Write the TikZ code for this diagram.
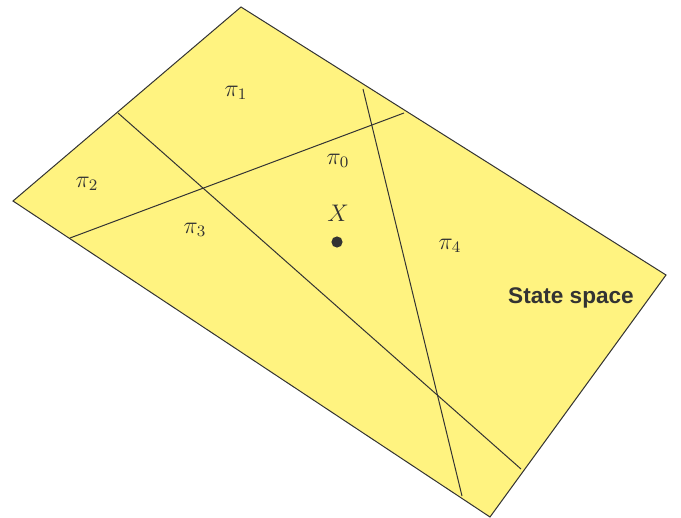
\documentclass[tikz,border=0pt]{standalone}
\usepackage{fontspec}
\newfontfamily\labelsans{Liberation Sans}
\definecolor{planefill}{HTML}{FFF380}
\definecolor{inkgray}{HTML}{333333}
\begin{document}
\begin{tikzpicture}[x=0.5pt,y=-0.5pt,
  edge/.style={draw=inkgray,line width=0.5pt},
  lbl/.style={text=inkgray,font=\fontsize{11.5}{14}\selectfont,inner sep=0pt},
  title/.style={text=inkgray,font=\labelsans\bfseries\fontsize{11.3}{14}\selectfont,inner sep=0pt}]
\useasboundingbox (0,0) rectangle (681,518);
\coordinate (T) at (241,7);
\coordinate (L) at (13,201);
\coordinate (B) at (490,517);
\coordinate (R) at (666,275);
\fill[planefill] (T) -- (L) -- (B) -- (R) -- cycle;
\coordinate (a1) at (118,113);
\coordinate (a2) at (521,469);
\coordinate (b1) at (70,238);
\coordinate (b2) at (404,113);
\coordinate (c1) at (363,89);
\coordinate (c2) at (462,496);
\draw[edge] (a1) -- (a2);
\draw[edge] (b1) -- (b2);
\draw[edge] (c1) -- (c2);
\draw[edge,line join=miter] (T) -- (L) -- (B) -- (R) -- cycle;
\node[lbl] (p1) at (236,93) {$\pi_1$};
\node[lbl] (p2) at (87,184) {$\pi_2$};
\node[lbl] (p0) at (338,161) {$\pi_0$};
\node[lbl] (p3) at (195,230) {$\pi_3$};
\node[lbl] (p4) at (450,246) {$\pi_4$};
\node[lbl] (X) at (338,213) {$X$};
\fill[inkgray] (337,242) circle (2.8pt) coordinate (dot);
\node[title] (ss) at (571,298) {State space};
\end{tikzpicture}
\end{document}
